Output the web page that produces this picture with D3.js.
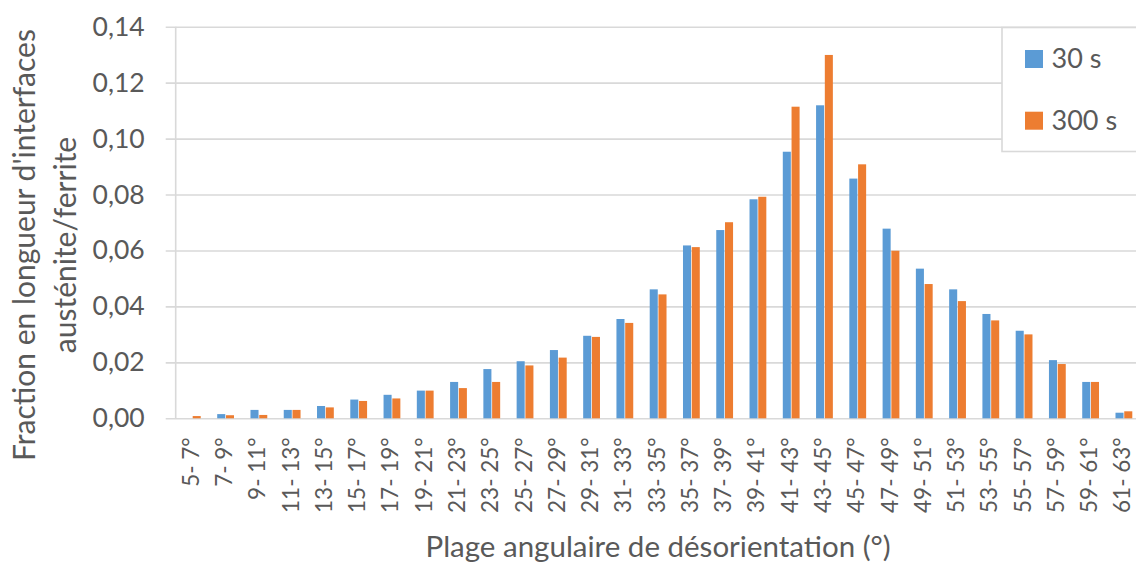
<!DOCTYPE html>
<html>
<head>
<meta charset="utf-8">
<script src="https://cdn.jsdelivr.net/npm/d3@7"></script>
<style>
  html, body { margin: 0; padding: 0; background: #fff; }
  svg { display: block; }
  text { font-family: Lato, "Open Sans", sans-serif; fill: #595959; }
</style>
</head>
<body>
<svg id="chart" width="1136" height="563"></svg>
<script>
// Misorientation ranges (degrees) for austenite/ferrite interfaces
const categories = ["5- 7°","7- 9°","9- 11°","11- 13°","13- 15°","15- 17°","17- 19°","19- 21°","21- 23°","23- 25°",
  "25- 27°","27- 29°","29- 31°","31- 33°","33- 35°","35- 37°","37- 39°","39- 41°","41- 43°","43- 45°",
  "45- 47°","47- 49°","49- 51°","51- 53°","53- 55°","55- 57°","57- 59°","59- 61°","61- 63°"];

const seriesNames = ["30 s", "300 s"];

// Length fraction of interfaces per range, 30 s holding time
const values30 = [0.0000, 0.0015, 0.0030, 0.0030, 0.0044, 0.0067, 0.0084, 0.0099, 0.0130, 0.0176,
  0.0204, 0.0244, 0.0295, 0.0355, 0.0461, 0.0618, 0.0673, 0.0783, 0.0953, 0.1119,
  0.0857, 0.0678, 0.0535, 0.0461, 0.0373, 0.0313, 0.0208, 0.0130, 0.0020];

// Length fraction of interfaces per range, 300 s holding time
const values300 = [0.0008, 0.0011, 0.0012, 0.0030, 0.0039, 0.0062, 0.0071, 0.0099, 0.0108, 0.0130,
  0.0189, 0.0217, 0.0291, 0.0341, 0.0443, 0.0612, 0.0701, 0.0792, 0.1114, 0.1299,
  0.0908, 0.0599, 0.0480, 0.0419, 0.0350, 0.0300, 0.0194, 0.0130, 0.0025];

const yTicks = [0, 0.02, 0.04, 0.06, 0.08, 0.10, 0.12, 0.14];

const colors = ["#5b9bd5", "#ed7d31"];

const rows = categories.map((c, i) => ({ cat: c, vals: [values30[i], values300[i]] }));

const svg = d3.select("#chart");
const margin = { left: 175.7, top: 26.7 };
const plotH = 391.6;
const plotW = 29 * 33.27;

const g = svg.append("g").attr("transform", `translate(${margin.left},${margin.top})`);

const x = d3.scaleBand().domain(categories).range([0, plotW]).padding(0);
const y = d3.scaleLinear().domain([0, 0.14]).range([plotH, 0]);
const bw = x.bandwidth();
const x1 = d3.scaleBand().domain(seriesNames).range([bw / 2 - 8.4, bw / 2 + 8.4]).paddingInner(0.08);

const fr = d3.formatLocale({ decimal: ",", thousands: " ", grouping: [3], currency: ["", " €"] });
const fmt = fr.format(".2f");

// Horizontal gridlines (with short ticks to the left of the value axis)
const grid = g.append("g")
  .attr("transform", `translate(${plotW},0)`)
  .call(d3.axisLeft(y).tickValues(yTicks).tickSize(plotW + 10).tickFormat(""));
grid.select(".domain").remove();
grid.selectAll(".tick line").attr("stroke", "#d9d9d9").attr("stroke-width", 1.6);

// Value axis line
g.append("line").attr("x1", 0).attr("x2", 0).attr("y1", 0).attr("y2", plotH)
  .attr("stroke", "#d9d9d9").attr("stroke-width", 1.6);

// Value axis labels
const yAxis = g.append("g")
  .call(d3.axisLeft(y).tickValues(yTicks).tickSize(0).tickPadding(31).tickFormat(fmt));
yAxis.select(".domain").remove();
yAxis.selectAll("text").attr("font-size", 26.5).style("fill", "#595959")
  .attr("font-family", "Lato, sans-serif");

// Bars
const grp = g.selectAll(".cat").data(rows).join("g")
  .attr("class", "cat")
  .attr("transform", d => `translate(${x(d.cat)},0)`);

grp.selectAll("rect")
  .data(d => d.vals.map((v, i) => ({ name: seriesNames[i], v, i })))
  .join("rect")
  .attr("x", d => x1(d.name))
  .attr("width", x1.bandwidth())
  .attr("y", d => y(d.v))
  .attr("height", d => plotH - y(d.v))
  .attr("fill", d => colors[d.i]);

// Category axis labels, rotated
const xAxis = g.append("g")
  .attr("transform", `translate(0,${plotH})`)
  .call(d3.axisBottom(x).tickSize(0).tickPadding(0));
xAxis.select(".domain").remove();
xAxis.selectAll("text")
  .attr("font-size", 22.5)
  .attr("font-family", "Lato, sans-serif")
  .style("fill", "#595959")
  .attr("text-anchor", "end")
  .attr("dy", null)
  .attr("y", 0)
  .attr("dominant-baseline", "central")
  .attr("transform", "translate(-2,19) rotate(-90)");

// Axis titles
svg.append("text")
  .attr("x", margin.left + plotW / 2)
  .attr("y", 557)
  .attr("text-anchor", "middle")
  .attr("font-size", 29.5)
  .text("Plage angulaire de désorientation (°)");

const yt = svg.append("text")
  .attr("transform", "translate(0,245) rotate(-90)")
  .attr("text-anchor", "middle")
  .attr("font-size", 30);
yt.append("tspan").attr("x", 0).attr("y", 35).text("Fraction en longueur d'interfaces");
yt.append("tspan").attr("x", 0).attr("y", 76).text("austénite/ferrite");

// Legend
const lg = svg.append("g");
lg.append("rect")
  .attr("x", 1002).attr("y", 27.5).attr("width", 160).attr("height", 124)
  .attr("fill", "#fff").attr("stroke", "#d9d9d9").attr("stroke-width", 1.6);
seriesNames.forEach((n, i) => {
  const yy = 50 + i * 61.7;
  lg.append("rect").attr("x", 1025).attr("y", yy).attr("width", 18).attr("height", 18).attr("fill", colors[i]);
  lg.append("text").attr("x", 1051.5).attr("y", yy + 18.3).attr("font-size", 27).text(n);
});
</script>
</body>
</html>
